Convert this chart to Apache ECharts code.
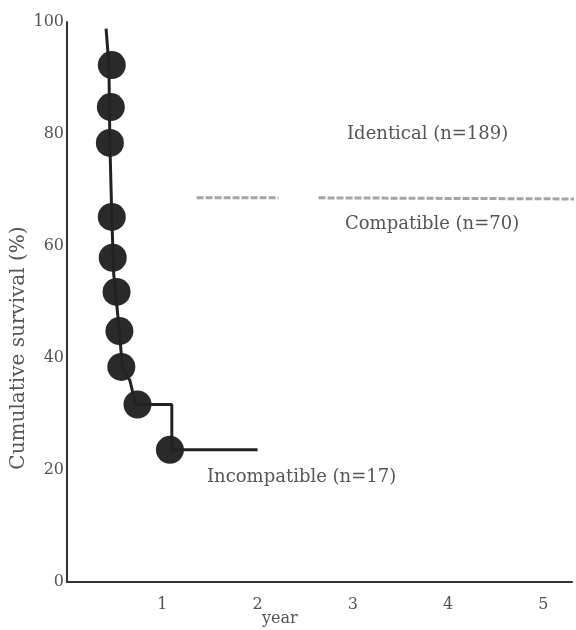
<!DOCTYPE html>
<html lang="en">
<head>
    <meta charset="UTF-8">
    <title>Cumulative survival</title>
    <script src="https://cdn.jsdelivr.net/npm/echarts@6/dist/echarts.min.js"></script>
    <style>
        html, body { margin: 0; padding: 0; background: #fff; }
        #main { width: 576px; height: 630px; }
    </style>
</head>
<body>
<div id="main"></div>
<script>
    // values (x in years, y in %)
    var yTicks = [0, 20, 40, 60, 80, 100];
    var xTicks = [1, 2, 3, 4, 5];
    var incompatLine = [[0.41, 98.8], [0.44, 92.3], [0.45, 78.4], [0.47, 65.2], [0.49, 55],
        [0.55, 44.8], [0.58, 38.4], [0.66, 36], [0.72, 31.7], [1.10, 31.7], [1.10, 23.6], [2.0, 23.6]];
    var incompatDots = [[0.47, 92.3], [0.46, 84.8], [0.45, 78.4], [0.47, 65.2], [0.48, 57.9],
        [0.52, 51.8], [0.55, 44.8], [0.57, 38.4], [0.74, 31.7], [1.08, 23.6]];
    var identicalLine = [[1.36, 68.6], [2.22, 68.6]];
    var compatibleLine = [[2.64, 68.6], [5.34, 68.4]];
    var labels = ['Identical (n=189)', 'Compatible (n=70)', 'Incompatible (n=17)'];

    var serif = 'DejaVu Serif';
    var txtColor = '#555';

    var myChart = echarts.init(document.getElementById('main'));
    myChart.setOption({
        animation: false,
        grid: {left: 67, right: 4, top: 22, bottom: 48, outerBoundsMode: 'none', containLabel: false},
        xAxis: {
            type: 'value', min: 0, max: 5.3, interval: 1,
            axisLine: {lineStyle: {color: '#333', width: 2}},
            axisTick: {show: false},
            splitLine: {show: false},
            axisLabel: {
                color: txtColor, fontFamily: serif, fontSize: 16, margin: 15,
                formatter: function (v) { return xTicks.indexOf(v) >= 0 ? String(v) : ''; }
            }
        },
        yAxis: {
            type: 'value', min: 0, max: 100, interval: 20,
            axisLine: {show: true, lineStyle: {color: '#333', width: 2}},
            axisTick: {show: false},
            splitLine: {show: false},
            axisLabel: {
                color: txtColor, fontFamily: serif, fontSize: 16, margin: 3,
                formatter: function (v) { return yTicks.indexOf(v) >= 0 ? String(v) : ''; }
            },
            name: 'Cumulative survival (%)',
            nameLocation: 'middle', nameGap: 38, nameRotate: 90, nameMoveOverlap: false,
            nameTextStyle: {color: txtColor, fontFamily: serif, fontSize: 20, padding: [0, 92, 0, 0]}
        },
        graphic: [
            {type: 'text', left: 262, top: 611, style: {text: 'year', fill: txtColor, font: '16px "DejaVu Serif"'}},
            {type: 'text', left: 347, top: 125, style: {text: labels[0], fill: txtColor, font: '18px "DejaVu Serif"'}},
            {type: 'text', left: 345, top: 215, style: {text: labels[1], fill: txtColor, font: '18px "DejaVu Serif"'}},
            {type: 'text', left: 207, top: 468, style: {text: labels[2], fill: txtColor, font: '18px "DejaVu Serif"'}}
        ],
        series: [
            {
                name: 'Identical', type: 'line', data: identicalLine, showSymbol: false,
                lineStyle: {color: '#a5a5a5', width: 3, type: [7, 2]}
            },
            {
                name: 'Compatible', type: 'line', data: compatibleLine, showSymbol: false,
                lineStyle: {color: '#a5a5a5', width: 3, type: [7, 2]}
            },
            {
                name: 'Incompatible', type: 'line', data: incompatLine, showSymbol: false,
                lineStyle: {color: '#222', width: 3}
            },
            {
                name: 'Incompatible events', type: 'scatter', data: incompatDots,
                symbolSize: 28, itemStyle: {color: '#2a2a2a', opacity: 1}
            }
        ]
    });
</script>
</body>
</html>
